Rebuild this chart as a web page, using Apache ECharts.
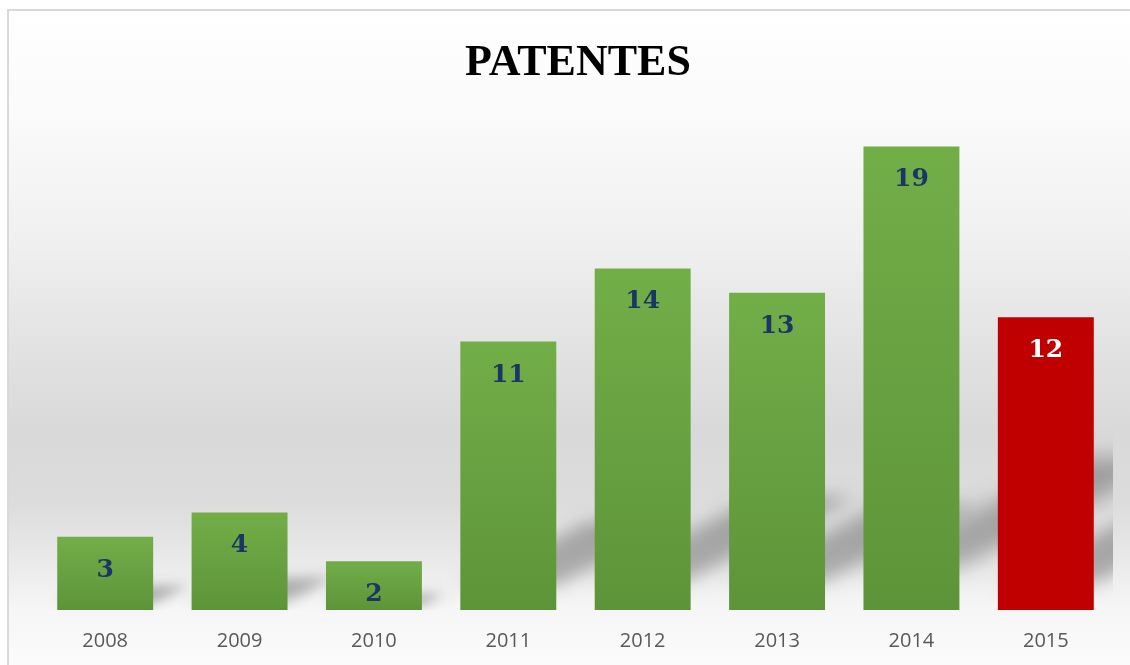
<!DOCTYPE html>
<html>
<head>
<meta charset="utf-8">
<script src="https://cdn.jsdelivr.net/npm/echarts@6/dist/echarts.min.js"></script>
<style>
  html, body { margin: 0; padding: 0; background: #ffffff; }
  #chart { width: 1130px; height: 665px; }
</style>
</head>
<body>
<div id="chart"></div>
<script>
// Patents granted per year
const years = ['2008', '2009', '2010', '2011', '2012', '2013', '2014', '2015'];
const patents = [3, 4, 2, 11, 14, 13, 19, 12];
const highlightYear = '2015';
const chartTitle = 'PATENTES';

const chart = echarts.init(document.getElementById('chart'), null, { renderer: 'canvas' });

const greenFill = new echarts.graphic.LinearGradient(0, 0, 0, 1, [
  { offset: 0, color: '#72ae48' },
  { offset: 1, color: '#5d9439' }
]);
const redFill = '#c00000';

const barData = patents.map((v, i) => ({
  value: v,
  itemStyle: { color: years[i] === highlightYear ? redFill : greenFill },
  label: { color: years[i] === highlightYear ? '#ffffff' : '#1b3664' }
}));

// Soft floor shadow cast up and to the right of every bar.
// The polygon is drawn far off-canvas and only its blurred shadow lands in view.
const OFF = 3000;
const BAR_RATIO = 0.714;
function renderShadow(params, api) {
  const idx = api.value(0);
  const base = api.coord([idx, 0]);
  const top = api.coord([idx, api.value(1)]);
  const band = api.size([1, 0])[0];
  const w = band * BAR_RATIO;
  const x0 = base[0] - w / 2;
  const x1 = x0 + w;
  const h = base[1] - top[1];
  const k = 0.24, s = 2.0;
  const lift = 0.09 * h;
  const yb = base[1] - lift;
  const sh = k * h;
  const pts = [
    [x0, yb], [x1, yb], [x1 + s * sh, yb - sh], [x0 + s * sh, yb - sh]
  ].map(p => [p[0] - OFF, p[1]]);
  return {
    type: 'polygon',
    shape: { points: pts },
    style: {
      fill: '#000',
      shadowColor: 'rgba(0,0,0,0.28)',
      shadowBlur: 10 + 0.025 * h,
      shadowOffsetX: OFF,
      shadowOffsetY: 0
    },
    silent: true
  };
}

const bgFill = new echarts.graphic.LinearGradient(0, 0, 0, 1, [
  { offset: 0.00, color: '#ffffff' },
  { offset: 0.165, color: '#fafafa' },
  { offset: 0.36, color: '#efefef' },
  { offset: 0.51, color: '#e2e2e2' },
  { offset: 0.63, color: '#d9d9d9' },
  { offset: 0.74, color: '#dcdcdc' },
  { offset: 0.83, color: '#eaeaea' },
  { offset: 0.90, color: '#f6f6f6' },
  { offset: 1.00, color: '#fcfcfc' }
]);

chart.setOption({
  animation: false,
  backgroundColor: '#ffffff',
  graphic: [{
    type: 'rect',
    z: -100,
    silent: true,
    shape: { x: 8, y: 10, width: 1130, height: 665 },
    style: { fill: bgFill, stroke: '#d9d9d9', lineWidth: 2 }
  }],
  title: {
    text: chartTitle,
    left: 573,
    top: 37,
    textAlign: 'center',
    textStyle: {
      fontFamily: 'Liberation Serif',
      fontWeight: 'bold',
      fontSize: 44,
      lineHeight: 44,
      color: '#000000'
    }
  },
  grid: { left: 38, right: 17, top: 122, bottom: 55, containLabel: false },
  xAxis: {
    type: 'category',
    data: years,
    axisLine: { show: false },
    axisTick: { show: false },
    axisLabel: {
      margin: 21,
      fontFamily: 'Open Sans',
      fontSize: 20,
      lineHeight: 20,
      color: '#595959'
    }
  },
  yAxis: {
    type: 'value',
    min: 0,
    max: 20,
    show: false,
    splitLine: { show: false }
  },
  series: [
    {
      type: 'custom',
      z: 1,
      clip: true,
      renderItem: renderShadow,
      data: patents.map((v, i) => [i, v])
    },
    {
      type: 'bar',
      z: 2,
      barCategoryGap: '28.6%',
      data: barData,
      label: {
        show: true,
        position: 'insideTop',
        distance: 21,
        fontFamily: 'DejaVu Serif',
        fontWeight: 'bold',
        fontSize: 25,
        lineHeight: 25
      }
    }
  ]
});
</script>
</body>
</html>
